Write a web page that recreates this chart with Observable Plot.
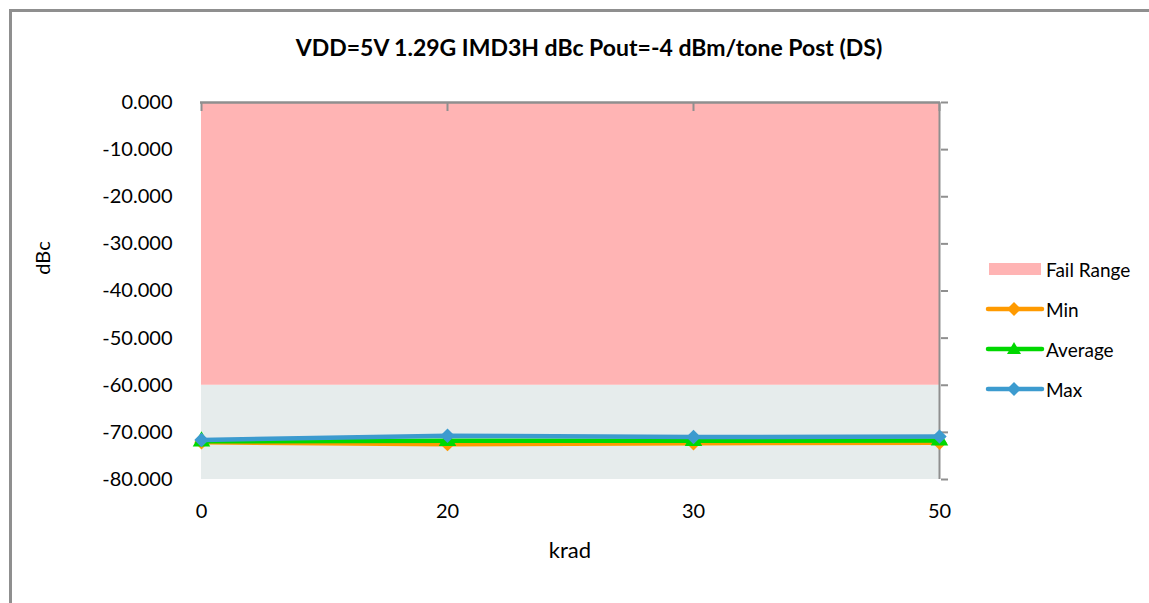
<!DOCTYPE html>
<html>
<head>
<meta charset="utf-8">
<script src="https://cdn.jsdelivr.net/npm/d3@7"></script>
<script src="https://cdn.jsdelivr.net/npm/@observablehq/plot@0.6"></script>
<style>
  html, body { margin: 0; padding: 0; background: #fff; overflow: hidden; }
  #wrap { position: relative; width: 1149px; height: 603px; overflow: hidden; font-family: Lato, "Open Sans", sans-serif; color: #000; }
  #ftop { position: absolute; left: 9px; top: 9px; width: 1140px; height: 3px; background: #8f8f8f; }
  #fleft { position: absolute; left: 9px; top: 9px; width: 3px; height: 594px; background: #8f8f8f; }
  #chart { position: absolute; left: 0; top: 0; }
  #title { position: absolute; left: 289px; width: 600px; top: 33px; text-align: center; font-weight: bold; font-size: 23px; white-space: nowrap; }
  #xlabel { position: absolute; left: 470px; width: 200px; top: 536px; text-align: center; font-size: 22px; }
  #ylabel { position: absolute; left: 42px; top: 258px; transform: translate(-50%, -50%) rotate(-90deg); font-size: 20px; }
  #legend { position: absolute; left: 985px; top: 257px; font-size: 19px; }
  .item { display: flex; align-items: center; height: 24px; margin-bottom: 16px; }
  .item svg { margin-right: 1px; }
</style>
</head>
<body>
<div id="wrap">
  <div id="ftop"></div>
  <div id="fleft"></div>
  <div id="chart"></div>
  <div id="title">VDD=5V 1.29G IMD3H dBc Pout=-4 dBm/tone Post (DS)</div>
  <div id="xlabel">krad</div>
  <div id="ylabel">dBc</div>
  <div id="legend"></div>
</div>
<script>
// ---- data ----
const krad = ["0", "20", "30", "50"];
const minVals = [-72.1, -72.5, -72.3, -72.2];
const avgVals = [-71.9, -71.8, -71.8, -71.7];
const maxVals = [-71.6, -70.7, -71.0, -70.9];
const failTop = 0;
const failBottom = -60;
const yMin = -80;
const yTicks = [0, -10, -20, -30, -40, -50, -60, -70, -80];
const seriesNames = ["Min", "Average", "Max"];
const seriesColors = ["#FF9A00", "#00D800", "#3C9BCF"];
const seriesSymbols = ["diamond2", "triangle", "diamond2"];
const failColor = "#FFB4B4";
const passColor = "#E6ECEC";
const axisGray = "#8f8f8f";

const seriesVals = [minVals, avgVals, maxVals];
const rows = seriesNames.flatMap((s, i) => krad.map((k, j) => ({series: s, krad: k, value: seriesVals[i][j]})));
const band = krad.map(k => ({krad: k}));

const marks = [
  Plot.areaY(band, {x: "krad", y1: yMin, y2: failBottom, fill: passColor}),
  Plot.areaY(band, {x: "krad", y1: failBottom, y2: failTop, fill: failColor}),
  Plot.axisY({ticks: yTicks, tickFormat: d => d.toFixed(3), tickSize: 0, tickPadding: 28, fontSize: 20, label: null}),
  Plot.axisX({tickSize: 0, tickPadding: 24, fontSize: 20, label: null}),
  Plot.axisY({anchor: "right", ticks: yTicks, tickFormat: () => "", tickSize: 7, stroke: axisGray, strokeWidth: 2, label: null}),
  Plot.axisX({anchor: "top", tickFormat: () => "", tickSize: -8, stroke: axisGray, strokeWidth: 2, label: null}),
  Plot.ruleX([krad[krad.length - 1]], {stroke: axisGray, strokeWidth: 2}),
  Plot.ruleY([failTop], {stroke: axisGray, strokeWidth: 2.5}),
];
seriesNames.forEach((s, i) => {
  const d = rows.filter(r => r.series === s);
  marks.push(Plot.line(d, {x: "krad", y: "value", stroke: seriesColors[i], strokeWidth: 4.5}));
  marks.push(Plot.dot(d, {x: "krad", y: "value", fill: seriesColors[i], symbol: seriesSymbols[i], r: 6.5}));
});

const chart = Plot.plot({
  width: 1149,
  height: 603,
  marginLeft: 200,
  marginRight: 209,
  marginTop: 102,
  marginBottom: 124,
  style: {background: "transparent", fontFamily: "Lato, 'Open Sans', sans-serif", color: "#000"},
  x: {type: "point", domain: krad, padding: 0, align: 0.5},
  y: {domain: [yMin, failTop]},
  marks
});
document.getElementById("chart").append(chart);

// ---- legend ----
const legend = document.getElementById("legend");
const ns = "http://www.w3.org/2000/svg";
function addItem(label, draw) {
  const div = document.createElement("div");
  div.className = "item";
  const svg = document.createElementNS(ns, "svg");
  svg.setAttribute("width", 60); svg.setAttribute("height", 20);
  svg.innerHTML = draw;
  div.append(svg);
  const span = document.createElement("span");
  span.textContent = label;
  div.append(span);
  legend.append(div);
}
addItem("Fail Range", `<rect x="4" y="4" width="52" height="12" fill="${failColor}"/>`);
seriesNames.forEach((s, i) => {
  const c = seriesColors[i];
  const sym = seriesSymbols[i] === "triangle"
    ? `<path d="M29,3 L36,15 L22,15 Z" fill="${c}"/>`
    : `<path d="M29,3 L36,10 L29,17 L22,10 Z" fill="${c}"/>`;
  addItem(s, `<line x1="3" y1="10" x2="57" y2="10" stroke="${c}" stroke-width="4.5" stroke-linecap="round"/>${sym}`);
});
</script>
</body>
</html>
